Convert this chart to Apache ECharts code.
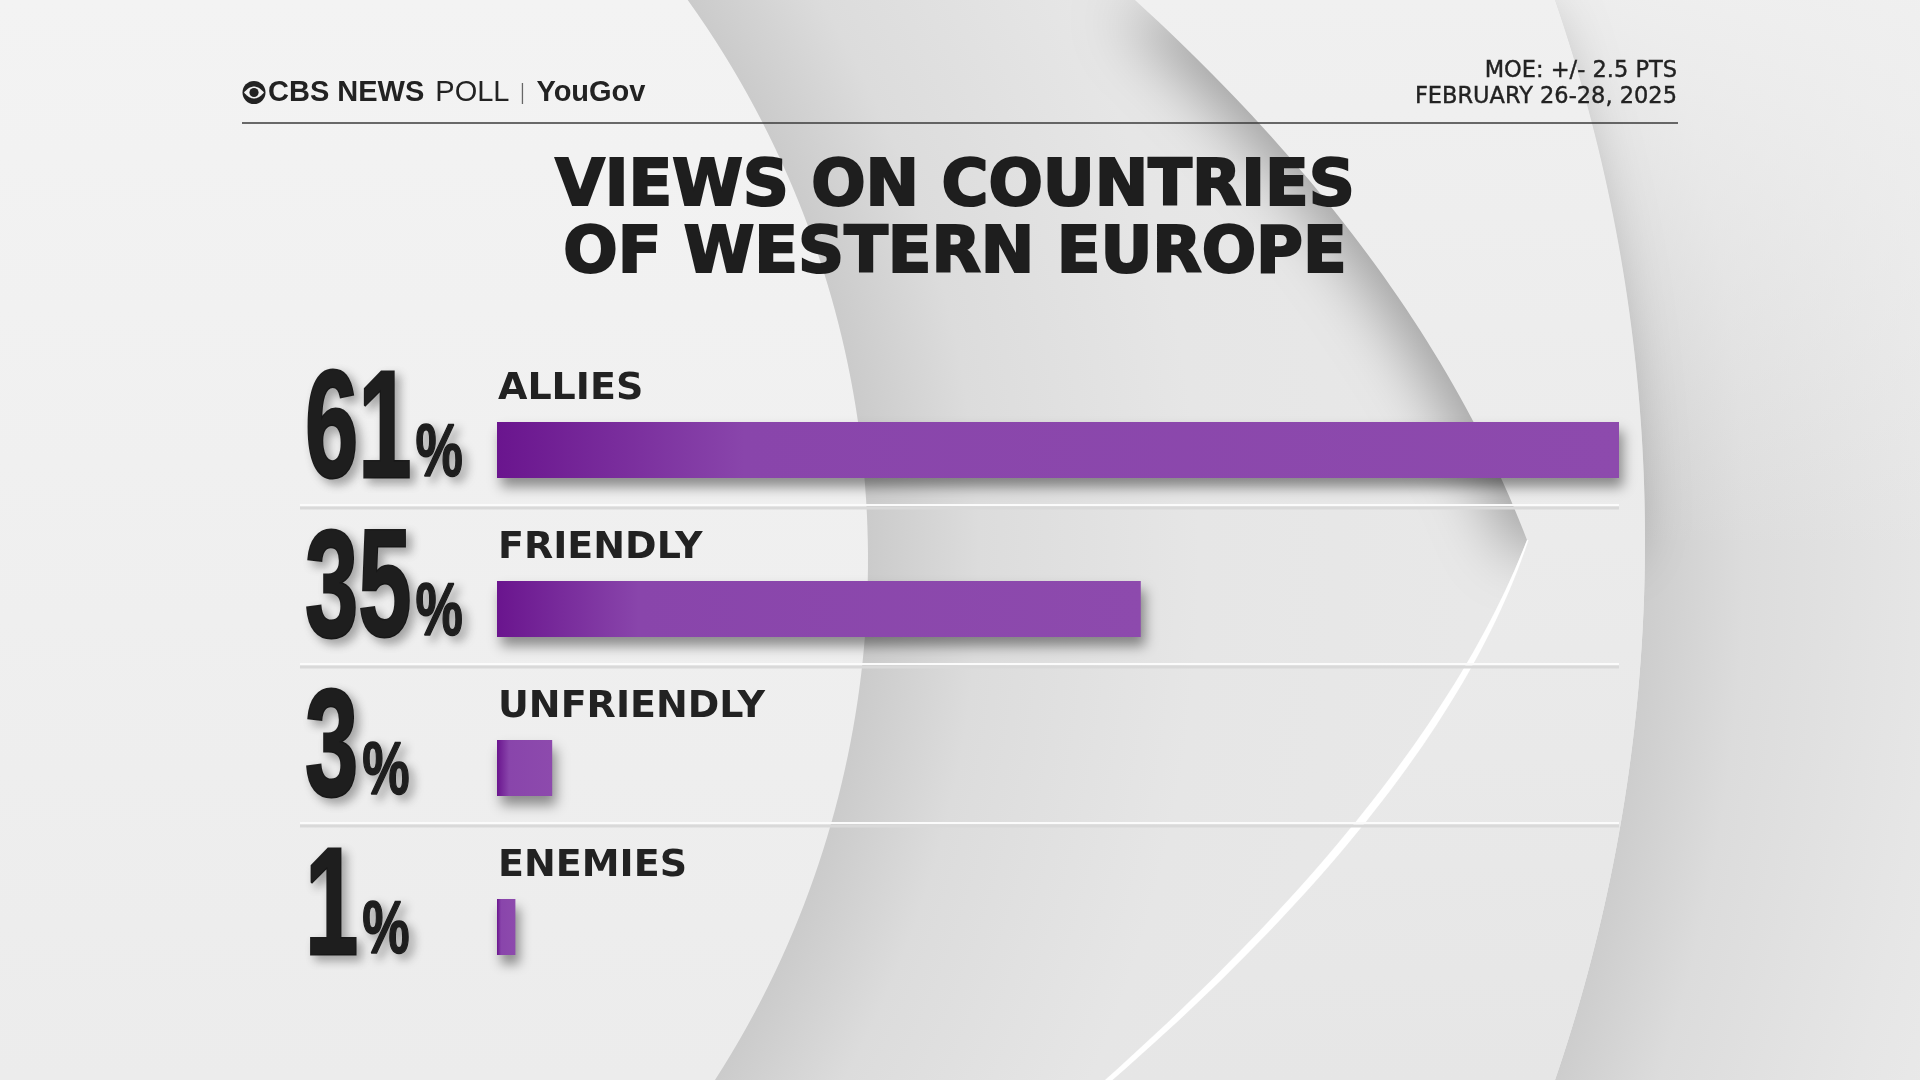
<!DOCTYPE html>
<html><head><meta charset="utf-8">
<script src="https://cdn.jsdelivr.net/npm/echarts@6/dist/echarts.min.js"></script>
<style>html,body{margin:0;padding:0;background:#eeeeee}#c{width:1920px;height:1080px}</style>
</head><body><div id="c"></div>
<script>
// ---- data ----
const categories = ['ALLIES', 'FRIENDLY', 'UNFRIENDLY', 'ENEMIES'];
const values = [61, 35, 3, 1];
const titleLines = ['VIEWS ON COUNTRIES', 'OF WESTERN EUROPE'];
const noteLines = ['MOE: +/- 2.5 PTS', 'FEBRUARY 26-28, 2025'];
const brandParts = ['CBS NEWS', 'POLL', 'YouGov'];

// ---- helpers ----
const mctx = document.createElement('canvas').getContext('2d');
function measure(text, font) { mctx.font = font; return mctx.measureText(text).width; }
function arcPts(cx, cy, r, y0, y1, n) {
  const pts = [];
  for (let i = 0; i <= n; i++) { const y = y0 + (y1 - y0) * i / n; pts.push([cx + Math.sqrt(r * r - (y - cy) * (y - cy)), y]); }
  return pts;
}
function quad(p0, p1, p2, n) {
  const pts = [];
  for (let i = 0; i <= n; i++) { const t = i / n, u = 1 - t;
    pts.push([u * u * p0[0] + 2 * u * t * p1[0] + t * t * p2[0], u * u * p0[1] + 2 * u * t * p1[1] + t * t * p2[1]]); }
  return pts;
}
const G = echarts.graphic.LinearGradient;
const RG = echarts.graphic.RadialGradient;

// ---- background decoration ----
const A = arcPts(-92, 560, 960, 0, 1080, 80);
const Ctop = arcPts(-20, 540, 1665, 0, 540, 40);
const Cbot = arcPts(-20, 540, 1665, 540, 1080, 40);
const C = Ctop.concat(Cbot.slice(1));
const B = quad([1135, 0], [1420, 260], [1527, 540], 50);
const L = quad([1527, 540], [1430, 790], [1105, 1080], 50);
const rev = a => a.slice().reverse();
const whiteEdge = L.map((p, i) => { const t = i / (L.length - 1); return [p[0] + 1.5 + 22 * t * (1 - t) + 6 * t, p[1]]; });

const bg = [
  { type: 'rect', z: -20, shape: { x: 0, y: 0, width: 1920, height: 1080 }, style: { fill: '#ececec' } },
  // right of outer arc
  { type: 'polygon', z: -19, shape: { points: C.concat([[1920, 1080], [1920, 0]]) },
    style: { fill: new RG(-20, 540, 2100, [{ offset: 0.793, color: '#cdcdcd' }, { offset: 0.84, color: '#dcdcdc' }, { offset: 0.93, color: '#e6e6e6' }, { offset: 1, color: '#ececec' }], true) } },
  { type: 'polygon', z: -19, shape: { points: Ctop.concat([[1920, 540], [1920, 0]]) },
    style: { fill: new G(0, 0, 0, 560, [{ offset: 0, color: 'rgba(240,240,240,0.9)' }, { offset: 1, color: 'rgba(240,240,240,0)' }], true) } },
  // left light area
  { type: 'polygon', z: -19, shape: { points: [[0, 0]].concat(A, [[0, 1080]]) },
    style: { fill: new G(0, 0, 0, 1080, [{ offset: 0, color: '#f3f3f3' }, { offset: 1, color: '#ececec' }], true) } },
  // grey crescent
  { type: 'polygon', z: -19, shape: { points: A.concat(rev(L), rev(B)) },
    style: { fill: new RG(-92, 560, 1700, [{ offset: 0.565, color: '#cbcbcb' }, { offset: 0.63, color: '#dcdcdc' }, { offset: 0.76, color: '#e6e6e6' }, { offset: 1, color: '#e9e9e9' }], true) } },
  // upper inner area (casts a shadow onto the crescent)
  { type: 'polygon', z: -19, shape: { points: B.concat([[1645, 540]], rev(Ctop)) },
    style: { fill: new G(0, 0, 0, 540, [{ offset: 0, color: '#f0f0f0' }, { offset: 1, color: '#ebebeb' }], true),
      shadowColor: 'rgba(0,0,0,0.3)', shadowBlur: 60, shadowOffsetX: -18, shadowOffsetY: 12 } },
  // lower inner area
  { type: 'polygon', z: -19, shape: { points: L.concat(rev(Cbot)) },
    style: { fill: new G(0, 540, 0, 1080, [{ offset: 0, color: '#ebebeb' }, { offset: 1, color: '#e6e6e6' }], true) } },
  // white highlight
  { type: 'polygon', z: -18, shape: { points: L.concat(rev(whiteEdge)) }, style: { fill: 'rgba(255,255,255,0.97)' } }
];

// ---- header / title ----
const lens = [];
for (let i = 0; i <= 24; i++) { const t = -1 + 2 * i / 24; lens.push([10 * t, -6 * (1 - t * t)]); }
for (let i = 24; i >= 0; i--) { const t = -1 + 2 * i / 24; lens.push([10 * t, 6 * (1 - t * t)]); }

const BOLD29 = 'bold 29px "Liberation Sans"';
const REG29 = '29px "Liberation Sans"';
const bx0 = 268;
const bx1 = bx0 + measure(brandParts[0], BOLD29) + 11;
const bxSep = bx1 + measure(brandParts[1], REG29) + 13;
const bx2 = bxSep + 14;

const header = [
  { type: 'group', x: 254, y: 92.5, z: 10, children: [
    { type: 'circle', shape: { cx: 0, cy: 0, r: 11.5 }, style: { fill: '#222' } },
    { type: 'polygon', shape: { points: lens }, style: { fill: '#f2f2f2' } },
    { type: 'circle', shape: { cx: 0, cy: 0, r: 4.6 }, style: { fill: '#222' } }
  ] },
  { type: 'text', x: bx0, y: 93, z: 10, style: { text: brandParts[0], align: 'left', verticalAlign: 'middle', font: BOLD29, fill: '#222' } },
  { type: 'text', x: bx1, y: 93, z: 10, style: { text: brandParts[1], align: 'left', verticalAlign: 'middle', font: REG29, fill: '#222' } },
  { type: 'line', z: 10, shape: { x1: bxSep, y1: 83, x2: bxSep, y2: 104 }, style: { stroke: '#666', lineWidth: 1.3 } },
  { type: 'text', x: bx2, y: 93, z: 10, style: { text: brandParts[2], align: 'left', verticalAlign: 'middle', font: BOLD29, fill: '#222' } },
  { type: 'text', x: 1677, y: 71, z: 10, style: { text: noteLines[0], align: 'right', verticalAlign: 'middle', font: '22.5px "DejaVu Sans"', fill: '#222', stroke: '#222', lineWidth: 0.4 } },
  { type: 'text', x: 1677, y: 97, z: 10, style: { text: noteLines[1], align: 'right', verticalAlign: 'middle', font: '22.5px "DejaVu Sans"', fill: '#222', stroke: '#222', lineWidth: 0.4 } },
  { type: 'line', z: 10, shape: { x1: 242, y1: 123, x2: 1678, y2: 123 }, style: { stroke: '#3a3a3a', lineWidth: 1.6 } },
  { type: 'text', x: 955, y: 188, z: 10, style: { text: titleLines[0], align: 'center', verticalAlign: 'middle', font: 'bold 64px "DejaVu Sans"', fill: '#1e1e1e', stroke: '#1e1e1e', lineWidth: 2.2 } },
  { type: 'text', x: 955, y: 255, z: 10, style: { text: titleLines[1], align: 'center', verticalAlign: 'middle', font: 'bold 64px "DejaVu Sans"', fill: '#1e1e1e', stroke: '#1e1e1e', lineWidth: 2.2 } }
];

// ---- number labels ----
const NUM_FONT = 'bold 152px "Liberation Sans"';
const PCT_FONT = 'bold 74px "Liberation Sans"';
const NUM_SX = 0.63, PCT_SX = 0.72, NUM_X = 305;
const shadow = { textShadowColor: 'rgba(0,0,0,0.3)', textShadowBlur: 10, textShadowOffsetX: 5, textShadowOffsetY: 5 };

function renderNumbers(params, api) {
  const idx = api.value(1);
  const c0 = api.coord([0, idx]);
  const cMax = api.coord([Math.max.apply(null, values), idx]);
  const yc = c0[1];
  const txt = String(api.value(0));
  const w = measure(txt, NUM_FONT) * NUM_SX;
  const children = [
    { type: 'text', x: NUM_X, y: yc - 14.5, scaleX: NUM_SX,
      style: Object.assign({ text: txt, x: 0, y: 0, font: NUM_FONT, fill: '#1e1e1e', stroke: '#1e1e1e', lineWidth: 3, align: 'left', verticalAlign: 'middle' }, shadow) },
    { type: 'text', x: NUM_X + w + 4, y: yc + 6, scaleX: PCT_SX,
      style: Object.assign({ text: '%', x: 0, y: 0, font: PCT_FONT, fill: '#1e1e1e', stroke: '#1e1e1e', lineWidth: 1.5, align: 'left', verticalAlign: 'middle' }, shadow) }
  ];
  if (params.dataIndex < values.length - 1) {
    children.push({ type: 'line', shape: { x1: 300, y1: yc + 58, x2: cMax[0], y2: yc + 58 }, style: { stroke: '#d9d9d9', lineWidth: 3 } });
    children.push({ type: 'line', shape: { x1: 300, y1: yc + 55, x2: cMax[0], y2: yc + 55 }, style: { stroke: '#fbfbfb', lineWidth: 2 } });
  }
  return { type: 'group', children: children };
}

const chart = echarts.init(document.getElementById('c'), null, { renderer: 'canvas' });
chart.setOption({
  animation: false,
  backgroundColor: '#ececec',
  graphic: { elements: bg.concat(header) },
  grid: { left: 497, right: 301, top: 370.5, height: 636, containLabel: false },
  xAxis: { type: 'value', min: 0, max: Math.max.apply(null, values), show: false },
  yAxis: { type: 'category', data: categories, inverse: true, show: false },
  series: [
    { type: 'bar', data: values, barWidth: 56, z: 3,
      itemStyle: {
        color: new G(0, 0, 1, 0, [{ offset: 0, color: '#6a158e' }, { offset: 0.22, color: '#8945ab' }, { offset: 1, color: '#8d4aad' }]),
        shadowColor: 'rgba(0,0,0,0.42)', shadowBlur: 12, shadowOffsetY: 9, shadowOffsetX: 4
      },
      label: { show: true, formatter: '{b}', position: [1, -33], align: 'left', verticalAlign: 'middle',
        fontFamily: '"DejaVu Sans"', fontWeight: 'bold', fontSize: 38, color: '#222' } },
    { type: 'custom', data: values.map((v, i) => [v, i]), encode: { x: 0, y: 1 }, renderItem: renderNumbers, z: 4, silent: true }
  ]
});
</script></body></html>
